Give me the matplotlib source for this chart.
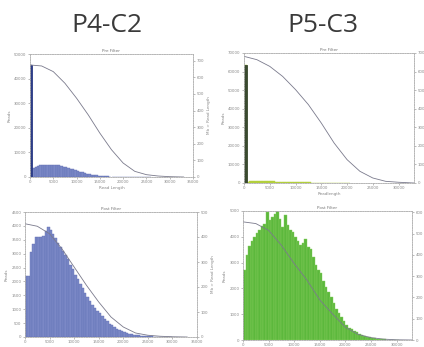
import numpy as np
import matplotlib
matplotlib.use('Agg')
from matplotlib import pyplot as plt

# read-length histograms, 500 bp bins starting at 0
bin_width = 500

p4_pre_counts = [45500, 3600, 4200, 4500, 4700, 4800, 4900, 5000, 5000, 5000,
                 4950, 4850, 4700, 4500, 4250, 4000, 3700, 3400, 3100, 2800,
                 2500, 2200, 1900, 1650, 1400, 1200, 1000, 850, 700, 580,
                 470, 380, 300, 240, 190, 150, 115, 90, 70, 55,
                 40, 32, 25, 20, 15, 12, 9, 7, 5, 4, 3, 2]

p5_pre_counts = [63600, 800, 900, 950, 1000, 1000, 1000, 980, 950, 920,
                 880, 850, 800, 760, 720, 680, 640, 600, 560, 520,
                 480, 440, 400, 360, 320, 280, 240, 200, 170, 140,
                 110, 90, 70, 55, 40, 30, 20, 15, 10, 6, 4]

p4_post_counts = [2200, 2200, 3060, 3350, 3600, 3600, 3600, 3650, 3800, 3950,
                  3850, 3700, 3550, 3400, 3250, 3100, 2950, 2800, 2600, 2450,
                  2250, 2100, 1900, 1750, 1600, 1450, 1300, 1150, 1050, 950,
                  850, 750, 650, 560, 480, 420, 360, 300, 250, 210,
                  175, 145, 120, 100, 80, 65, 55, 45, 35, 30,
                  25, 20, 16, 13, 10, 8, 6, 5, 4, 3]

p5_post_counts = [2700, 3300, 3650, 3850, 4000, 4150, 4250, 4400, 4500, 4950,
                  4650, 4770, 4900, 5000, 4700, 4380, 4830, 4450, 4250, 4200,
                  4000, 3850, 3670, 3750, 3930, 3600, 3540, 3220, 2900, 2700,
                  2580, 2300, 2060, 1850, 1680, 1450, 1220, 1050, 900, 750,
                  580, 480, 420, 360, 300, 230, 190, 160, 130, 100,
                  77, 60, 45, 35, 28, 20, 15, 11, 8, 6, 5]

# Mb > read length curves (right axis)
curve_x = [0, 2500, 5000, 7500, 10000, 12500, 15000, 17500, 20000, 22500, 25000, 27500, 30000, 33000]
p4_pre_mb = [674, 668, 634, 564, 474, 374, 264, 164, 84, 34, 14, 6, 2, 0]
p5_pre_mb = [682, 664, 628, 574, 503, 422, 323, 215, 126, 63, 27, 9, 4, 0]
p4_post_mb = [453, 443, 413, 353, 280, 207, 140, 80, 40, 16, 7, 3, 1, 0]
p5_post_mb = [555, 547, 515, 445, 359, 281, 188, 122, 60, 26, 11, 4, 1, 0]

titles = ['P4-C2', 'P5-C3']

blue = '#7b88c6'
blue_edge = '#6170b4'
green = '#5cb83c'
green_edge = '#86cf5e'
pre_green = '#b2cf3c'

W, H = 424, 347
fig = plt.figure(figsize=(W / 100, H / 100), dpi=100)
fig.patch.set_facecolor('white')


def px_axes(left, top, right, bottom):
    return fig.add_axes([left / W, (H - bottom) / H, (right - left) / W, (bottom - top) / H])


def style(ax):
    for s in ax.spines.values():
        s.set_color('#b0b0b0')
        s.set_linewidth(0.5)
        s.set_linestyle((0, (2, 1.5)))
    ax.tick_params(labelsize=2.8, colors='#888888', length=1.5, width=0.4, pad=1)


def panel(box, counts, spike_edge, color, edge, curve, xmax, ymax, ystep, y2max, y2step,
          title, xlabel=None, y2label=True):
    ax = px_axes(*box)
    starts = np.arange(len(counts)) * bin_width
    ax.bar(starts, counts, width=bin_width, align='edge', color=color,
           edgecolor=edge, linewidth=0.3)
    if spike_edge:
        ax.bar(starts[:1], counts[:1], width=bin_width, align='edge', color=spike_edge,
               edgecolor=spike_edge, linewidth=0.6)
    ax.set_xlim(0, xmax)
    ax.set_ylim(0, ymax)
    ax.set_xticks(np.arange(0, xmax + 1, 5000))
    ax.set_yticks(np.arange(0, ymax + 1, ystep))
    ax.set_title(title, fontsize=3, color='#777777', pad=1.5)
    if xlabel:
        ax.set_xlabel(xlabel, fontsize=3, color='#888888', labelpad=1)
    ax.set_ylabel('Reads', fontsize=3, color='#888888', labelpad=2)
    style(ax)
    ax2 = ax.twinx()
    ax2.plot(curve_x, curve, color='#7a7a8c', linewidth=0.6)
    ax2.set_ylim(0, y2max)
    ax2.set_yticks(np.arange(0, y2max + 1, y2step))
    if y2label:
        ax2.set_ylabel('Mb > Read Length', fontsize=3, color='#888888', labelpad=2)
    style(ax2)
    return ax


panel((30, 54, 193, 177), p4_pre_counts, '#2c3c86', blue, blue_edge, p4_pre_mb,
      35000, 50000, 10000, 740, 100, 'Pre Filter', 'Read Length')
panel((244, 53, 414, 183), p5_pre_counts, '#3a4a30', pre_green, pre_green, p5_pre_mb,
      33000, 70000, 10000, 700, 100, 'Pre Filter', 'Readlength', y2label=False)
panel((25, 212, 197, 337), p4_post_counts, None, blue, blue_edge, p4_post_mb,
      35000, 4500, 500, 500, 100, 'Post Filter')
panel((243, 211, 412, 340), p5_post_counts, None, green, green_edge, p5_post_mb,
      33000, 5000, 1000, 606, 100, 'Post Filter', y2label=False)

fig.text(107 / W, 1 - 25 / H, titles[0], fontsize=19, family='Open Sans',
         color='#3a3a3a', ha='center', va='center')
fig.text(323 / W, 1 - 25 / H, titles[1], fontsize=19, family='Open Sans',
         color='#3a3a3a', ha='center', va='center')

fig.savefig('out.png', dpi=100, facecolor='white')
